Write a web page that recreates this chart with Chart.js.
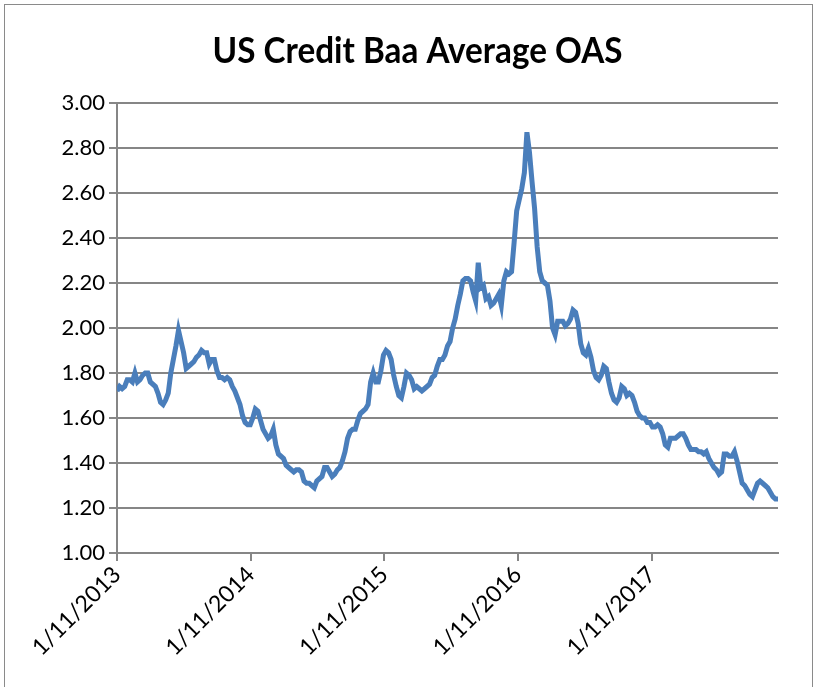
<!DOCTYPE html>
<html>
<head>
<meta charset="utf-8">
<script src="https://cdn.jsdelivr.net/npm/chart.js@4/dist/chart.umd.min.js"></script>
<style>
  html, body { margin: 0; padding: 0; background: #ffffff; }
  #wrap { width: 817px; height: 687px; position: relative; }
</style>
</head>
<body>
<div id="wrap"><canvas id="c" width="817" height="687"></canvas></div>
<script>
// Weekly Baa average option-adjusted spread, starting 1/11/2013
const chartTitle = 'US Credit Baa Average OAS';
const daysPerStep = 7;
const oasValues = [
  1.72, 1.74, 1.73, 1.74, 1.77, 1.77, 1.76, 1.80, 1.76, 1.77,
  1.79, 1.80, 1.80, 1.76, 1.75, 1.74, 1.71, 1.67, 1.66, 1.68,
  1.71, 1.80, 1.86, 1.92, 1.99, 1.94, 1.89, 1.82, 1.83, 1.84,
  1.85, 1.87, 1.88, 1.90, 1.89, 1.89, 1.84, 1.86, 1.86, 1.81,
  1.78, 1.78, 1.77, 1.78, 1.77, 1.74, 1.72, 1.69, 1.66, 1.61,
  1.58, 1.57, 1.57, 1.60, 1.64, 1.63, 1.59, 1.55, 1.53, 1.51,
  1.52, 1.55, 1.48, 1.44, 1.43, 1.42, 1.39, 1.38, 1.37, 1.36,
  1.37, 1.37, 1.36, 1.32, 1.31, 1.31, 1.30, 1.29, 1.32, 1.33,
  1.34, 1.38, 1.38, 1.36, 1.34, 1.35, 1.37, 1.38, 1.41, 1.45,
  1.51, 1.54, 1.55, 1.55, 1.59, 1.62, 1.63, 1.64, 1.66, 1.76,
  1.80, 1.76, 1.76, 1.81, 1.88, 1.90, 1.89, 1.86, 1.79, 1.74,
  1.70, 1.69, 1.74, 1.80, 1.79, 1.77, 1.73, 1.74, 1.73, 1.72,
  1.73, 1.74, 1.75, 1.78, 1.79, 1.83, 1.86, 1.86, 1.88, 1.92,
  1.94, 2.00, 2.04, 2.10, 2.15, 2.21, 2.22, 2.22, 2.21, 2.16,
  2.12, 2.29, 2.18, 2.19, 2.13, 2.14, 2.10, 2.11, 2.13, 2.15,
  2.10, 2.21, 2.25, 2.24, 2.25, 2.38, 2.52, 2.57, 2.62, 2.69,
  2.87, 2.78, 2.65, 2.53, 2.36, 2.25, 2.21, 2.20, 2.19, 2.12,
  2.00, 1.97, 2.03, 2.03, 2.03, 2.01, 2.02, 2.04, 2.08, 2.07,
  2.02, 1.93, 1.89, 1.88, 1.91, 1.87, 1.81, 1.78, 1.77, 1.79,
  1.83, 1.82, 1.76, 1.71, 1.68, 1.67, 1.69, 1.74, 1.73, 1.70,
  1.71, 1.70, 1.67, 1.63, 1.61, 1.60, 1.60, 1.58, 1.58, 1.56,
  1.56, 1.57, 1.56, 1.53, 1.48, 1.47, 1.51, 1.51, 1.51, 1.52,
  1.53, 1.53, 1.51, 1.48, 1.46, 1.46, 1.46, 1.45, 1.45, 1.44,
  1.45, 1.42, 1.40, 1.38, 1.37, 1.35, 1.36, 1.44, 1.44, 1.43,
  1.43, 1.45, 1.41, 1.36, 1.31, 1.30, 1.28, 1.26, 1.25, 1.28,
  1.31, 1.32, 1.31, 1.30, 1.29, 1.27, 1.25, 1.24, 1.24
];

// Date-axis ticks: days elapsed since the first observation
const xTickDays = [0, 365, 730, 1095, 1461];
const xTickLabels = ['1/11/2013', '1/11/2014', '1/11/2015', '1/11/2016', '1/11/2017'];

const yTickValues = [1.00, 1.20, 1.40, 1.60, 1.80, 2.00, 2.20, 2.40, 2.60, 2.80, 3.00];

const points = oasValues.map((v, i) => ({ x: i * daysPerStep, y: v }));

const gridGrey = '#868686';
const fontFamily = 'Lato, "Open Sans", sans-serif';

// White page, outer frame and a condensed bold title
const frame = {
  id: 'frame',
  beforeDraw(chart) {
    const ctx = chart.ctx;
    ctx.save();
    ctx.fillStyle = '#ffffff';
    ctx.fillRect(0, 0, chart.width, chart.height);
    ctx.restore();
  },
  afterDraw(chart) {
    const ctx = chart.ctx;
    ctx.save();
    ctx.strokeStyle = '#8a8a8a';
    ctx.lineWidth = 1;
    ctx.strokeRect(4.5, 4.5, 808, 700);

    ctx.font = 'bold 36px ' + fontFamily;
    ctx.fillStyle = '#000000';
    ctx.textAlign = 'center';
    ctx.textBaseline = 'alphabetic';
    const w = ctx.measureText(chartTitle).width;
    const target = 410;
    ctx.translate(417.5, 63);
    ctx.scale(target / w, 1);
    ctx.fillText(chartTitle, 0, 0);
    ctx.restore();
  }
};

new Chart(document.getElementById('c'), {
  type: 'line',
  data: {
    datasets: [{
      label: chartTitle,
      data: points,
      borderColor: '#4a7ebb',
      borderWidth: 5,
      pointRadius: 0,
      tension: 0,
      fill: false
    }]
  },
  options: {
    responsive: false,
    animation: false,
    layout: { padding: { left: 4, right: 39, top: 103, bottom: 0 } },
    plugins: {
      legend: { display: false },
      tooltip: { enabled: false },
      title: { display: false }
    },
    scales: {
      x: {
        type: 'linear',
        min: 0,
        max: (oasValues.length - 1) * daysPerStep,
        afterBuildTicks(scale) {
          scale.ticks = xTickDays.map(v => ({ value: v }));
        },
        afterFit(scale) { scale.height = 134; },
        ticks: {
          autoSkip: false,
          minRotation: 45,
          maxRotation: 45,
          color: '#000000',
          font: { family: fontFamily, size: 23 },
          padding: 0,
          callback(value) {
            const k = xTickDays.indexOf(value);
            return k >= 0 ? xTickLabels[k] : '';
          }
        },
        grid: {
          drawOnChartArea: false,
          drawTicks: true,
          tickLength: 8,
          color: gridGrey,
          lineWidth: 2
        },
        border: { display: true, color: gridGrey, width: 2 }
      },
      y: {
        min: 1,
        max: 3,
        afterBuildTicks(scale) {
          scale.ticks = yTickValues.map(v => ({ value: v }));
        },
        afterFit(scale) { scale.width = 113; },
        ticks: {
          color: '#000000',
          font: { family: fontFamily, size: 22 },
          padding: 4,
          callback(value) { return Number(value).toFixed(2); }
        },
        grid: {
          color: gridGrey,
          lineWidth: 2,
          drawTicks: true,
          tickLength: 8
        },
        border: { display: true, color: gridGrey, width: 2 }
      }
    }
  },
  plugins: [frame]
});
</script>
</body>
</html>
